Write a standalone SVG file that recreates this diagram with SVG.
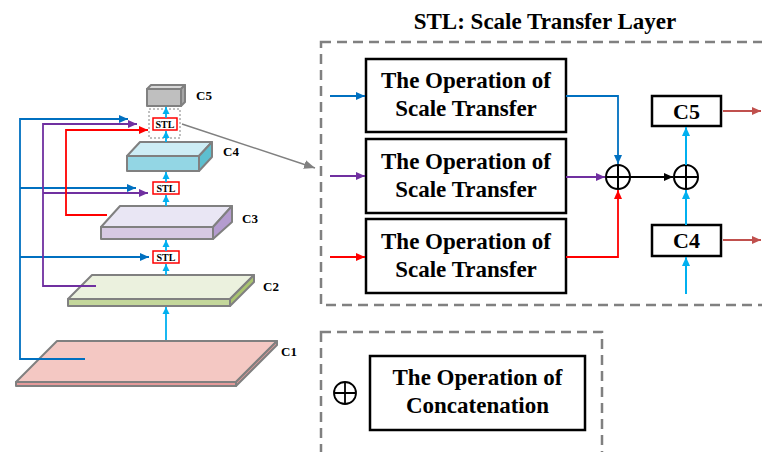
<svg xmlns="http://www.w3.org/2000/svg" width="762" height="452" viewBox="0 0 762 452">
<style>
text{font-family:"Liberation Serif","Times New Roman",serif;font-weight:bold;fill:#000}
.big{font-size:23px;text-anchor:middle}
.lbl{font-size:13px}
.stl{font-size:10px;text-anchor:middle}
.box{fill:#fff;stroke:#000;stroke-width:2.5}
.dash{fill:none;stroke:#808080;stroke-width:2.5;stroke-dasharray:10 6}
.layer{stroke:#808080;stroke-width:2;stroke-linejoin:round}
.stlbox{fill:#fff;stroke:#ff0000;stroke-width:1.5}
.cy{stroke:#00b0f0;stroke-width:1.8;fill:none}
.cy2{stroke:#00b0f0;stroke-width:2;fill:none}
.bl{stroke:#0070c0;stroke-width:1.8;fill:none}
.pu{stroke:#7030a0;stroke-width:1.8;fill:none}
.rd{stroke:#ff0000;stroke-width:1.8;fill:none}
.br{stroke:#c0504d;stroke-width:1.8;fill:none}
.bk{stroke:#000;stroke-width:2;fill:none}
.gy{stroke:#808080;stroke-width:1.5;fill:none}
</style>
<defs>
<marker id="aCy" markerUnits="userSpaceOnUse" markerWidth="8" markerHeight="8" refX="7" refY="4" orient="auto"><path d="M0,0.5 L7,4 L0,7.5 Z" fill="#00b0f0"/></marker>
<marker id="aCy2" markerUnits="userSpaceOnUse" markerWidth="10" markerHeight="10" refX="9" refY="5" orient="auto"><path d="M0,1 L9,5 L0,9 Z" fill="#00b0f0"/></marker>
<marker id="aBl" markerUnits="userSpaceOnUse" markerWidth="10" markerHeight="10" refX="9" refY="5" orient="auto"><path d="M0,1 L9,5 L0,9 Z" fill="#0070c0"/></marker>
<marker id="aPu" markerUnits="userSpaceOnUse" markerWidth="10" markerHeight="10" refX="9" refY="5" orient="auto"><path d="M0,1 L9,5 L0,9 Z" fill="#7030a0"/></marker>
<marker id="aRd" markerUnits="userSpaceOnUse" markerWidth="10" markerHeight="10" refX="9" refY="5" orient="auto"><path d="M0,1 L9,5 L0,9 Z" fill="#ff0000"/></marker>
<marker id="aBr" markerUnits="userSpaceOnUse" markerWidth="10" markerHeight="10" refX="9" refY="5" orient="auto"><path d="M0,1 L9,5 L0,9 Z" fill="#c0504d"/></marker>
<marker id="aBk" markerUnits="userSpaceOnUse" markerWidth="10" markerHeight="10" refX="9" refY="5" orient="auto"><path d="M0,1 L9,5 L0,9 Z" fill="#000"/></marker>
<marker id="aGy" markerUnits="userSpaceOnUse" markerWidth="12" markerHeight="12" refX="11" refY="6" orient="auto"><path d="M0,1.5 L11,6 L0,10.5 Z" fill="#808080"/></marker>
<g id="plus"><circle r="12" fill="#fff" stroke="#000" stroke-width="2"/><path d="M-12,0 H12 M0,-12 V12" stroke="#000" stroke-width="2"/></g>
</defs>
<rect width="762" height="452" fill="#fff"/>

<g id="c1">
<path class="layer" d="M16,382 L57,341 L277,341 L236,382 Z" fill="#f4c8c3"/>
<path class="layer" d="M16,382 L236,382 L236,386 L16,386 Z" fill="#e59a9a"/>
<path class="layer" d="M236,382 L277,341 L277,345 L236,386 Z" fill="#e59a9a"/>
<text class="lbl" x="281" y="356">C1</text>
</g>
<g id="c2">
<path class="layer" d="M68,299 L92,275 L254,275 L230,299 Z" fill="#ebf1de"/>
<path class="layer" d="M68,299 L230,299 L230,306 L68,306 Z" fill="#c4d79b"/>
<path class="layer" d="M230,299 L254,275 L254,282 L230,306 Z" fill="#a9c46f"/>
<text class="lbl" x="263" y="291">C2</text>
</g>
<g id="c3">
<path class="layer" d="M101,227 L120,206 L232,206 L213,227 Z" fill="#e9e6f4"/>
<path class="layer" d="M101,227 L213,227 L213,239 L101,239 Z" fill="#d7c9e3"/>
<path class="layer" d="M213,227 L232,206 L232,222 L213,239 Z" fill="#b49ccf"/>
<text class="lbl" x="242" y="223">C3</text>
</g>
<g id="c4">
<path class="layer" d="M127,156 L140,142 L212,142 L199,156 Z" fill="#cdedf5"/>
<path class="layer" d="M127,156 L199,156 L199,171 L127,171 Z" fill="#93d6e4"/>
<path class="layer" d="M199,156 L212,142 L212,157 L199,171 Z" fill="#5dbfcf"/>
<text class="lbl" x="223" y="156">C4</text>
</g>
<g id="c5">
<path class="layer" d="M147,89 L151,85 L185,85 L181,89 Z" fill="#d9d9d9"/>
<path class="layer" d="M147,89 L181,89 L181,106 L147,106 Z" fill="#bfbfbf"/>
<path class="layer" d="M181,89 L185,85 L185,102 L181,106 Z" fill="#a6a6a6"/>
<text class="lbl" x="196" y="100">C5</text>
</g>
<g id="stl-top">
<rect x="149" y="109" width="31" height="29" fill="none" stroke="#808080" stroke-width="1" stroke-dasharray="2 2"/>
<rect class="stlbox" x="153" y="118" width="24" height="12"/>
<text class="stl" x="165" y="128">STL</text>
</g>
<g id="stl-mid">
<rect class="stlbox" x="153" y="182" width="26" height="12"/>
<text class="stl" x="166" y="192">STL</text>
</g>
<g id="stl-low">
<rect class="stlbox" x="153" y="251" width="26" height="12"/>
<text class="stl" x="166" y="261">STL</text>
</g>

<text x="545" y="29" style="font-size:23px;text-anchor:middle">STL: Scale Transfer Layer</text>
<rect class="dash" x="321" y="42" width="460" height="263"/>
<g id="op1"><rect class="box" x="366" y="59" width="200" height="73"/><text class="big" x="466" y="88">The Operation of</text><text class="big" x="466" y="116">Scale Transfer</text></g>
<g id="op2"><rect class="box" x="366" y="139" width="200" height="74"/><text class="big" x="466" y="169">The Operation of</text><text class="big" x="466" y="197">Scale Transfer</text></g>
<g id="op3"><rect class="box" x="366" y="219" width="200" height="74"/><text class="big" x="466" y="249">The Operation of</text><text class="big" x="466" y="277">Scale Transfer</text></g>
<g id="concat1"><use href="#plus" x="618" y="177"/></g>
<g id="concat2"><use href="#plus" x="686" y="177"/></g>
<g id="c5box"><rect class="box" x="652" y="96" width="69" height="30"/><text class="big" x="686.5" y="119" style="font-size:22px">C5</text></g>
<g id="c4box"><rect class="box" x="652" y="225" width="69" height="31"/><text class="big" x="686.5" y="248" style="font-size:22px">C4</text></g>

<rect class="dash" x="321" y="332" width="281" height="140"/>
<g id="legend-plus"><circle cx="345" cy="393" r="11" fill="#fff" stroke="#000" stroke-width="1.8"/><path d="M334,393 H356 M345,382 V404" stroke="#000" stroke-width="1.8"/></g>
<g id="legend-box"><rect class="box" x="370" y="356" width="215" height="74"/><text class="big" x="477.5" y="385">The Operation of</text><text class="big" x="477.5" y="413">Concatenation</text></g>

<g id="connectors">
<path class="cy" d="M166,340 V307" marker-end="url(#aCy)"/>
<path class="cy" d="M166,275 V264" marker-end="url(#aCy)"/>
<path class="cy" d="M166,251 V240" marker-end="url(#aCy)"/>
<path class="cy" d="M166,206 V195" marker-end="url(#aCy)"/>
<path class="cy" d="M166,182 V172" marker-end="url(#aCy)"/>
<path class="cy" d="M166,142 V131" marker-end="url(#aCy)"/>
<path class="cy" d="M166,118 V107" marker-end="url(#aCy)"/>
<path class="bl" d="M85,359 H20 V119 H128" marker-end="url(#aBl)"/>
<path class="bl" d="M20,188 H136" marker-end="url(#aBl)"/>
<path class="bl" d="M20,257 H149" marker-end="url(#aBl)"/>
<path class="pu" d="M96,286 H43 V124 H137" marker-end="url(#aPu)"/>
<path class="pu" d="M43,193 H148" marker-end="url(#aPu)"/>
<path class="rd" d="M107,215 H66 V130 H148" marker-end="url(#aRd)"/>
<path class="gy" d="M182,124 L315,168" marker-end="url(#aGy)"/>
<path class="bl" d="M330,96 H365" marker-end="url(#aBl)"/>
<path class="pu" d="M330,176 H365" marker-end="url(#aPu)"/>
<path class="rd" d="M330,257 H365" marker-end="url(#aRd)"/>
<path class="bl" d="M566,96 H618 V164" marker-end="url(#aBl)"/>
<path class="pu" d="M566,177 H605" marker-end="url(#aPu)"/>
<path class="rd" d="M566,257 H618 V190" marker-end="url(#aRd)"/>
<path class="bk" d="M630,177 H673" marker-end="url(#aBk)"/>
<path class="cy2" d="M686,165 V127" marker-end="url(#aCy2)"/>
<path class="cy2" d="M686,225 V190" marker-end="url(#aCy2)"/>
<path class="cy2" d="M686,294 V257" marker-end="url(#aCy2)"/>
<path class="br" d="M723,111 H761" marker-end="url(#aBr)"/>
<path class="br" d="M723,240 H761" marker-end="url(#aBr)"/>
</g>
</svg>
